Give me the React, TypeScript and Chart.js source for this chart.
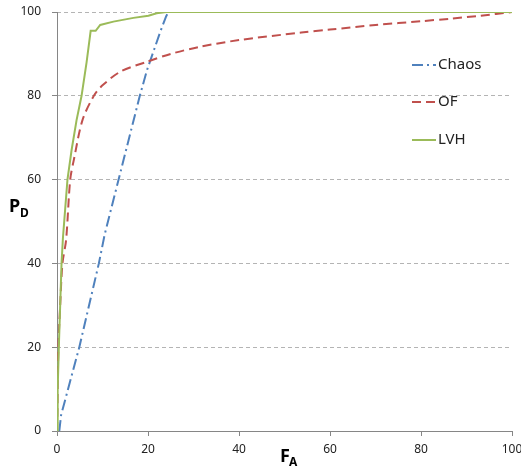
import React, { useEffect, useRef } from 'react';
import { Chart, registerables } from 'chart.js';

Chart.register(...registerables);

// ---- Data ----
const seriesNames = ['Chaos', 'OF', 'LVH'];

const chaosX = [0.5, 0.9, 4.9, 9.2, 10.5, 14, 18.2, 19.8, 21.3, 22.7, 24, 24.5, 100];
const chaosY = [0, 3.8, 20, 40, 47, 62, 80, 86.2, 90.9, 95.3, 99, 100, 100];

const ofX = [0, 0.1, 0.3, 0.7, 1.2, 2.0, 2.9, 3.7, 5.6, 8.1, 10, 14, 19.7, 25, 31.4, 40, 53.7, 60, 70, 80, 86.4, 93, 100];
const ofY = [0, 5, 20, 30, 40, 45.6, 60, 64.7, 74.2, 80, 82.5, 85.8, 88.1, 90, 91.7, 93.3, 95.1, 95.8, 96.9, 97.8, 98.4, 99.1, 100];

const lvhX = [0, 0.15, 0.4, 0.7, 1.0, 1.3, 1.8, 2.3, 3.2, 4.3, 5.4, 6.5, 7.4, 8.5, 9.5, 12.4, 16.8, 20.1, 21.9, 24, 100];
const lvhY = [0, 10, 20, 30, 40, 46, 53, 60, 67, 74.2, 80, 88, 95.5, 95.5, 96.9, 97.7, 98.6, 99.1, 99.7, 100, 100];

const xTicks = [0, 20, 40, 60, 80, 100];
const yTicks = [0, 20, 40, 60, 80, 100];

const COLORS = ['#4F81BD', '#C0504D', '#9BBB59'];
const DASHES: number[][] = [[11, 4, 2, 4], [9, 5], []];
const FONT = '"Noto Sans", "DejaVu Sans", sans-serif';
const AXIS = '#868686';

export default function App() {
  const ref = useRef<HTMLCanvasElement>(null);

  useEffect(() => {
    document.body.style.margin = '0';
    const toPts = (xs: number[], ys: number[]) => xs.map((x, i) => ({ x, y: ys[i] }));

    const overlay = {
      id: 'overlay',
      beforeDatasetsDraw(chart: any) {
        const ctx = chart.ctx as CanvasRenderingContext2D;
        const a = chart.chartArea;
        ctx.save();
        ctx.strokeStyle = AXIS;
        ctx.lineWidth = 1;
        ctx.setLineDash([]);
        ctx.beginPath();
        ctx.moveTo(Math.round(a.left) + 0.5, a.top);
        ctx.lineTo(Math.round(a.left) + 0.5, Math.round(a.bottom) + 0.5);
        ctx.lineTo(a.right, Math.round(a.bottom) + 0.5);
        ctx.stroke();
        ctx.restore();
      },
      afterDraw(chart: any) {
        const ctx = chart.ctx as CanvasRenderingContext2D;
        ctx.save();
        // Legend
        const legendY = [65, 102, 140];
        seriesNames.forEach((name, i) => {
          const y = legendY[i];
          ctx.beginPath();
          ctx.strokeStyle = COLORS[i];
          ctx.lineWidth = 2;
          ctx.setLineDash(DASHES[i]);
          ctx.moveTo(412, y);
          ctx.lineTo(436, y);
          ctx.stroke();
          ctx.setLineDash([]);
          ctx.fillStyle = '#222';
          ctx.font = `15px ${FONT}`;
          ctx.textBaseline = 'middle';
          ctx.textAlign = 'left';
          ctx.fillText(name, 438, y);
        });
        // Axis titles
        ctx.fillStyle = '#000';
        ctx.textBaseline = 'alphabetic';
        ctx.font = `bold 18px ${FONT}`;
        ctx.fillText('P', 9, 212);
        ctx.fillText('F', 280, 462);
        ctx.font = `bold 12px ${FONT}`;
        ctx.fillText('D', 20, 217);
        ctx.fillText('A', 289, 466);
        ctx.restore();
      },
    };

    const chart = new Chart(ref.current as HTMLCanvasElement, {
      type: 'line',
      data: {
        datasets: [
          { label: seriesNames[0], data: toPts(chaosX, chaosY), borderColor: COLORS[0], borderDash: DASHES[0], borderWidth: 2, pointRadius: 0, order: 3, tension: 0 },
          { label: seriesNames[1], data: toPts(ofX, ofY), borderColor: COLORS[1], borderDash: DASHES[1], borderWidth: 2, pointRadius: 0, order: 2, tension: 0.3 },
          { label: seriesNames[2], data: toPts(lvhX, lvhY), borderColor: COLORS[2], borderWidth: 2, pointRadius: 0, order: 1, tension: 0 },
        ],
      },
      options: {
        responsive: false,
        animation: false,
        layout: { padding: { top: 12, right: 9, left: 0, bottom: 0 } },
        plugins: { legend: { display: false }, tooltip: { enabled: false } },
        scales: {
          x: {
            type: 'linear',
            min: 0,
            max: 100,
            afterBuildTicks: (s: any) => { s.ticks = xTicks.map((v) => ({ value: v })); },
            afterFit: (s: any) => { s.height = 37; s.paddingLeft = 0; s.paddingRight = 0; },
            grid: { drawOnChartArea: false, tickLength: 5, tickColor: AXIS },
            border: { display: false },
            ticks: { padding: 6, color: '#222', font: { family: FONT, size: 12 }, maxRotation: 0 },
          },
          y: {
            type: 'linear',
            min: 0,
            max: 100,
            afterBuildTicks: (s: any) => { s.ticks = yTicks.map((v) => ({ value: v })); },
            afterFit: (s: any) => { s.width = 57; s.paddingTop = 0; s.paddingBottom = 0; },
            grid: { color: '#b4b4b4', tickBorderDash: [], tickLength: 5, tickColor: AXIS } as any,
            border: { display: false, dash: [4, 3] },
            ticks: { padding: 11, color: '#222', font: { family: FONT, size: 12 } },
          },
        },
      },
      plugins: [overlay],
    } as any);

    return () => chart.destroy();
  }, []);

  return <canvas ref={ref} width={521} height={468} style={{ display: 'block' }} />;
}
